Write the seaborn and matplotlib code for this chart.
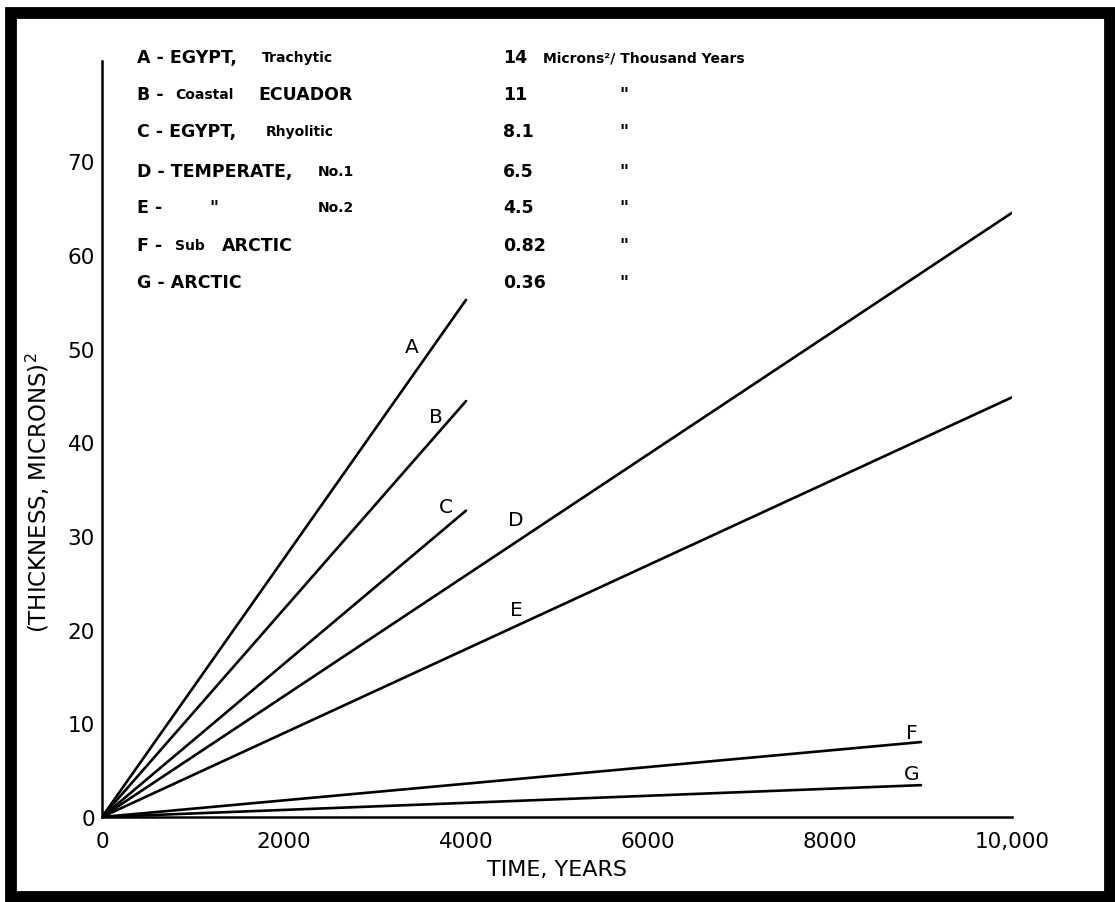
import pandas as pd
import matplotlib.pyplot as plt
import seaborn as sns
from matplotlib.patches import Rectangle

# Dados (hidratação da obsidiana)
linhas = ['A', 'B', 'C', 'D', 'E', 'F', 'G']
taxas = ['14', '11', '8.1', '6.5', '4.5', '0.82', '0.36']
anos_fim = [4000, 4000, 4000, 10000, 10000, 9000, 9000]
espessura_fim = [55.2, 44.4, 32.7, 64.5, 44.8, 8.0, 3.4]

# posições dos rótulos das retas (coordenadas de dados)
rot_x = [3400, 3670, 3780, 4550, 4550, 8900, 8900]
rot_y = [50.2, 42.8, 33.1, 31.8, 22.2, 9.0, 4.6]

# tabela longa: cada reta sai da origem
rows = []
for nome, xf, yf in zip(linhas, anos_fim, espessura_fim):
    rows.append({'linha': nome, 'anos': 0, 'esp': 0.0})
    rows.append({'linha': nome, 'anos': xf, 'esp': yf})
df = pd.DataFrame(rows)

sns.set_style("white")
plt.rcParams['font.family'] = ['DejaVu Sans']
plt.rcParams['text.color'] = 'black'
plt.rcParams['axes.labelcolor'] = 'black'
plt.rcParams['xtick.color'] = 'black'
plt.rcParams['ytick.color'] = 'black'

W, H = 1115, 903
fig = plt.figure(figsize=(W / 100, H / 100), dpi=100)
ax = fig.add_axes([102 / W, 1 - 818 / H, 910 / W, 756 / H])

sns.lineplot(data=df, x='anos', y='esp', units='linha', estimator=None,
             color='black', linewidth=1.9, ax=ax)

for nome, x, y in zip(linhas, rot_x, rot_y):
    ax.text(x, y, nome, fontsize=14.5, ha='center', va='center')

ax.set_xlim(0, 10000)
ax.set_ylim(0, 80.7)
ax.set_xticks([0, 2000, 4000, 6000, 8000, 10000])
ax.set_xticklabels(['0', '2000', '4000', '6000', '8000', '10,000'])
ax.set_yticks(range(0, 80, 10))
ax.tick_params(axis='x', direction='in', length=5, width=1.5, pad=10, labelsize=15.5)
ax.tick_params(axis='y', direction='inout', length=6, width=1.5, pad=2, labelsize=15.5)
sns.despine(ax=ax)
for s in ['left', 'bottom']:
    ax.spines[s].set_linewidth(1.8)
    ax.spines[s].set_color('black')

ax.set_xlabel('TIME, YEARS', fontsize=16, labelpad=6)
ax.set_ylabel('(THICKNESS, MICRONS)$^2$', fontsize=16.5)
ax.yaxis.set_label_coords(-0.055, 0.43)

# quadro de legenda escrito no topo
linhas_y = [58, 95, 132, 172, 208, 246, 283]
grande = dict(fontsize=12.5, fontweight='bold', va='center')
pequeno = dict(fontsize=10, fontweight='bold', va='center')

def t(px, py, txt, estilo):
    fig.text(px / W, 1 - py / H, txt, **estilo)

t(137, linhas_y[0], 'A - EGYPT,', grande)
t(262, linhas_y[0], 'Trachytic', pequeno)
t(137, linhas_y[1], 'B -', grande)
t(175, linhas_y[1], 'Coastal', pequeno)
t(258, linhas_y[1], 'ECUADOR', grande)
t(137, linhas_y[2], 'C - EGYPT,', grande)
t(266, linhas_y[2], 'Rhyolitic', pequeno)
t(137, linhas_y[3], 'D - TEMPERATE,', grande)
t(318, linhas_y[3], 'No.1', pequeno)
t(137, linhas_y[4], 'E -', grande)
t(209, linhas_y[4], '"', grande)
t(318, linhas_y[4], 'No.2', pequeno)
t(137, linhas_y[5], 'F -', grande)
t(175, linhas_y[5], 'Sub', pequeno)
t(222, linhas_y[5], 'ARCTIC', grande)
t(137, linhas_y[6], 'G - ARCTIC', grande)

for taxa, py in zip(taxas, linhas_y):
    t(503, py, taxa, grande)
t(543, linhas_y[0], 'Microns²/ Thousand Years', pequeno)
for py in linhas_y[1:]:
    t(619, py, '"', grande)

# moldura preta da figura
fig.patches.append(Rectangle((10.5 / W, 5 / H), (1110 - 10.5) / W, (898 - 14) / H,
                             transform=fig.transFigure, fill=False,
                             edgecolor='black', linewidth=8.5))

fig.savefig('out.png', dpi=100)
